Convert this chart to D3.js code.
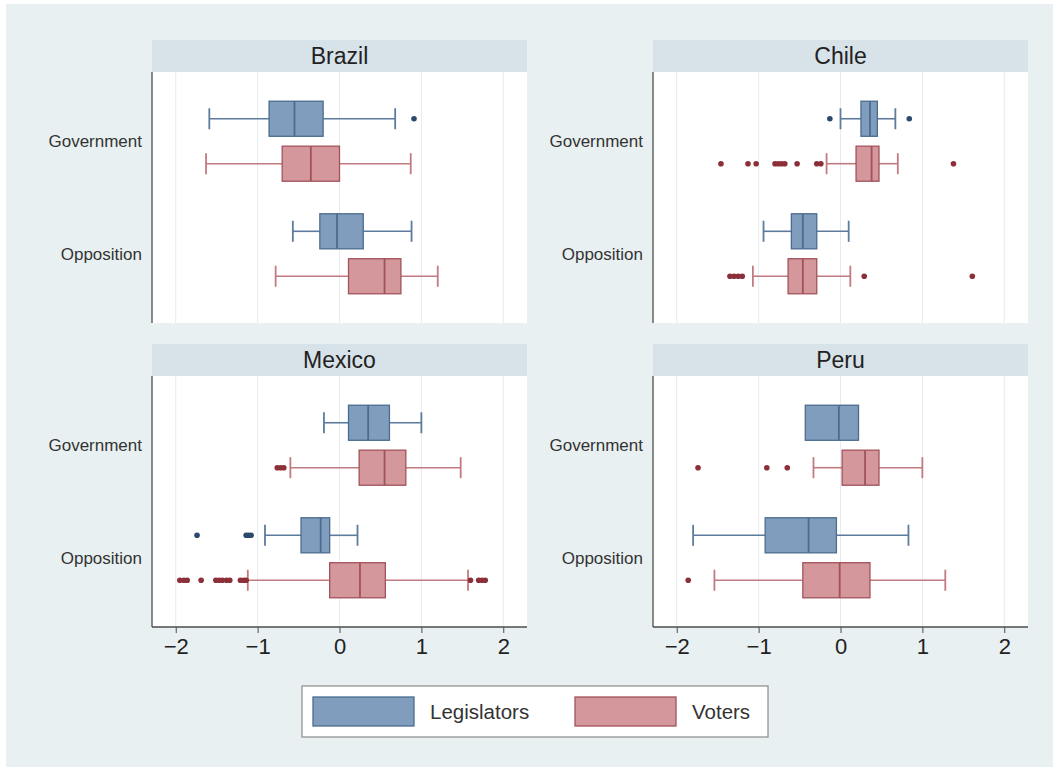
<!DOCTYPE html>
<html>
<head>
<meta charset="utf-8">
<script src="https://cdn.jsdelivr.net/npm/d3@7"></script>
<style>
  html, body { margin: 0; padding: 0; background: #ffffff; }
  svg { display: block; font-family: "Liberation Sans", Arial, Helvetica, sans-serif; }
</style>
</head>
<body>
<svg id="chart" width="1053" height="767"></svg>
<script>
// Panels, groups and series
const countries = ["Brazil", "Chile", "Mexico", "Peru"];
const groups = ["Government", "Opposition"];
const series = ["Legislators", "Voters"];
const xTicks = [-2, -1, 0, 1, 2];

// Box summaries per country: [lower whisker, Q1, median, Q3, upper whisker]
const legislatorsGovernment = [
  [-1.59, -0.86, -0.55, -0.20, 0.68],
  [0.00, 0.25, 0.36, 0.45, 0.67],
  [-0.19, 0.11, 0.35, 0.61, 1.00],
  [-0.43, -0.43, -0.02, 0.22, 0.22]
];
const votersGovernment = [
  [-1.63, -0.70, -0.35, 0.00, 0.87],
  [-0.17, 0.19, 0.38, 0.47, 0.70],
  [-0.60, 0.24, 0.55, 0.81, 1.48],
  [-0.33, 0.02, 0.30, 0.47, 1.00]
];
const legislatorsOpposition = [
  [-0.57, -0.24, -0.03, 0.29, 0.88],
  [-0.94, -0.60, -0.46, -0.29, 0.10],
  [-0.91, -0.47, -0.23, -0.12, 0.22],
  [-1.80, -0.92, -0.39, -0.05, 0.83]
];
const votersOpposition = [
  [-0.78, 0.11, 0.55, 0.75, 1.20],
  [-1.07, -0.64, -0.46, -0.29, 0.12],
  [-1.12, -0.12, 0.25, 0.56, 1.57],
  [-1.54, -0.46, -0.01, 0.36, 1.28]
];

// Outside values per country
const legislatorsGovernmentOutliers = [[0.91], [-0.13, 0.84], [], []];
const votersGovernmentOutliers = [
  [],
  [-1.46, -1.13, -1.03, -0.80, -0.76, -0.72, -0.68, -0.53, -0.29, -0.24, 1.38],
  [-0.76, -0.72, -0.68],
  [-1.74, -0.90, -0.65]
];
const legislatorsOppositionOutliers = [[], [], [-1.74, -1.14, -1.11, -1.08], []];
const votersOppositionOutliers = [
  [],
  [-1.35, -1.30, -1.25, -1.20, 0.29, 1.61],
  [-1.95, -1.90, -1.86, -1.69, -1.51, -1.47, -1.43, -1.38, -1.34, -1.21, -1.17, -1.14, 1.60, 1.70, 1.74, 1.78],
  [-1.86]
];

const summaries = {
  Government: { Legislators: legislatorsGovernment, Voters: votersGovernment },
  Opposition: { Legislators: legislatorsOpposition, Voters: votersOpposition }
};
const outliers = {
  Government: { Legislators: legislatorsGovernmentOutliers, Voters: votersGovernmentOutliers },
  Opposition: { Legislators: legislatorsOppositionOutliers, Voters: votersOppositionOutliers }
};

const style = {
  Legislators: { fill: "#819dbd", stroke: "#4a6c90", whisker: "#5d7b9c", dot: "#2c4a6c" },
  Voters: { fill: "#d4979c", stroke: "#a2525a", whisker: "#c27a81", dot: "#8c2f38" }
};

const svg = d3.select("#chart");

// page background
svg.append("rect").attr("x", 6).attr("y", 4).attr("width", 1047).attr("height", 763)
  .attr("fill", "#e8f0f2");

const panelW = 375, plotH = 251, headerH = 32;
const panelX = [152, 653];
const headerY = [40, 344];

const x = d3.scaleLinear().domain([-2.29, 2.29]).range([0, panelW]);
const yGroup = d3.scalePoint().domain(groups).range([0, plotH]).padding(0.615);
const ySeries = d3.scaleBand().domain(series).range([-40, 40]).paddingInner(0.22).paddingOuter(0);
const bw = ySeries.bandwidth();
const capH = bw * 0.6;

countries.forEach((country, ci) => {
  const col = ci % 2, row = Math.floor(ci / 2);
  const px = panelX[col], hy = headerY[row], py = hy + headerH;

  const g = svg.append("g").attr("transform", `translate(${px},${py})`);

  // header strip
  svg.append("rect").attr("x", px).attr("y", hy).attr("width", panelW).attr("height", headerH)
    .attr("fill", "#d8e3e9");
  svg.append("text").attr("x", px + panelW / 2).attr("y", hy + headerH / 2 + 8)
    .attr("text-anchor", "middle").attr("font-size", 23).attr("fill", "#222")
    .text(country);

  // plot region
  g.append("rect").attr("width", panelW).attr("height", plotH).attr("fill", "#ffffff");

  // vertical grid lines
  g.selectAll("line.grid").data(xTicks).join("line").attr("class", "grid")
    .attr("x1", d => x(d)).attr("x2", d => x(d)).attr("y1", 0).attr("y2", plotH)
    .attr("stroke", "#e6ebee").attr("stroke-width", 1);

  // y axis line and group labels
  g.append("line").attr("x1", 0).attr("x2", 0).attr("y1", 0).attr("y2", plotH)
    .attr("stroke", "#4d4d4d").attr("stroke-width", 1.3);
  g.selectAll("text.grp").data(groups).join("text").attr("class", "grp")
    .attr("x", -10).attr("y", d => yGroup(d) + 6)
    .attr("text-anchor", "end").attr("font-size", 17).attr("fill", "#333")
    .text(d => d);

  // x axis on bottom row
  if (row === 1) {
    const axis = d3.axisBottom(x).tickValues(xTicks).tickSize(6).tickPadding(5)
      .tickFormat(d => d < 0 ? "\u2212" + Math.abs(d) : String(d));
    const ax = g.append("g").attr("transform", `translate(0,${plotH})`).call(axis);
    ax.select(".domain").attr("stroke", "#4d4d4d").attr("stroke-width", 1.3)
      .attr("d", `M0,0H${panelW}`);
    ax.selectAll(".tick line").attr("stroke", "#4d4d4d");
    ax.selectAll(".tick text").attr("font-size", 22).attr("fill", "#222")
      .attr("font-family", "'Liberation Sans', Arial, sans-serif");
  }

  // boxes
  groups.forEach(grp => {
    series.forEach(s => {
      const [lo, q1, med, q3, hi] = summaries[grp][s][ci];
      const cy = yGroup(grp) + ySeries(s) + bw / 2;
      const st = style[s];
      const bg = g.append("g");
      // whiskers
      bg.append("line").attr("x1", x(lo)).attr("x2", x(q1)).attr("y1", cy).attr("y2", cy)
        .attr("stroke", st.whisker).attr("stroke-width", 1.6);
      bg.append("line").attr("x1", x(q3)).attr("x2", x(hi)).attr("y1", cy).attr("y2", cy)
        .attr("stroke", st.whisker).attr("stroke-width", 1.6);
      if (lo < q1) {
        bg.append("line").attr("x1", x(lo)).attr("x2", x(lo)).attr("y1", cy - capH / 2).attr("y2", cy + capH / 2)
          .attr("stroke", st.whisker).attr("stroke-width", 1.8);
      }
      if (hi > q3) {
        bg.append("line").attr("x1", x(hi)).attr("x2", x(hi)).attr("y1", cy - capH / 2).attr("y2", cy + capH / 2)
          .attr("stroke", st.whisker).attr("stroke-width", 1.8);
      }
      // box
      bg.append("rect").attr("x", x(q1)).attr("y", cy - bw / 2)
        .attr("width", x(q3) - x(q1)).attr("height", bw)
        .attr("fill", st.fill).attr("stroke", st.stroke).attr("stroke-width", 1.3);
      // median
      bg.append("line").attr("x1", x(med)).attr("x2", x(med)).attr("y1", cy - bw / 2).attr("y2", cy + bw / 2)
        .attr("stroke", st.stroke).attr("stroke-width", 1.8);
      // outside values
      bg.selectAll("circle").data(outliers[grp][s][ci]).join("circle")
        .attr("cx", d => x(d)).attr("cy", cy).attr("r", 2.8).attr("fill", st.dot);
    });
  });
});

// legend
const leg = svg.append("g").attr("transform", "translate(302,686)");
leg.append("rect").attr("width", 466).attr("height", 51)
  .attr("fill", "#ffffff").attr("stroke", "#8a8a8a").attr("stroke-width", 1.2);
const legX = d3.scalePoint().domain(series).range([11, 273]);
series.forEach(s => {
  leg.append("rect").attr("x", legX(s)).attr("y", 11).attr("width", 101).attr("height", 29)
    .attr("fill", style[s].fill).attr("stroke", style[s].stroke).attr("stroke-width", 1.3);
  leg.append("text").attr("x", legX(s) + 117).attr("y", 33)
    .attr("font-size", 20.5).attr("fill", "#333").text(s);
});
</script>
</body>
</html>
